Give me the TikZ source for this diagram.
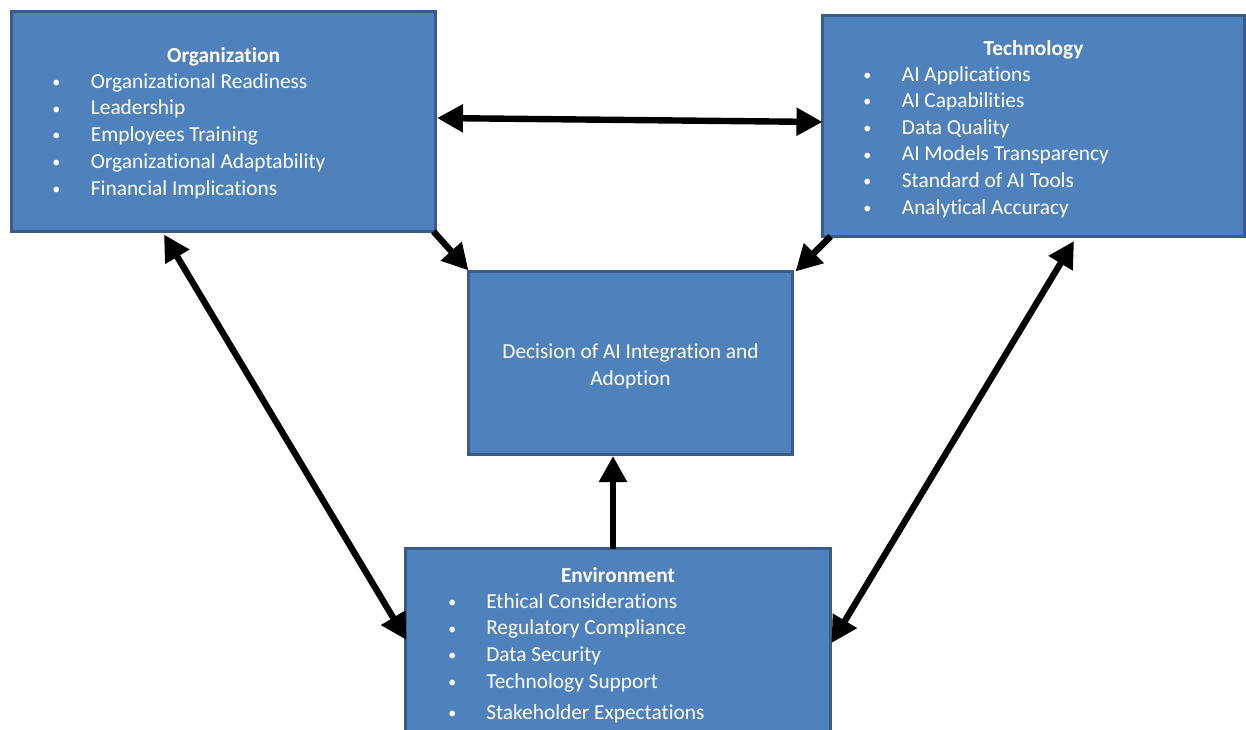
\documentclass[tikz,border=0pt]{standalone}
\usepackage{fontspec}
\setmainfont{Carlito}[Ligatures={NoCommon}]
\usetikzlibrary{arrows.meta,calc}
\definecolor{boxfill}{HTML}{4F81BD}
\definecolor{boxline}{HTML}{385D8A}
\newcommand{\blt}{\raisebox{0.5pt}{\scalebox{0.75}{•}}}
\tikzset{
  box/.style={draw=boxline, fill=boxfill, line width=2.25pt, rectangle, outer sep=0pt, inner sep=0pt},
  ttl/.style={font=\bfseries\fontsize{16}{19}\selectfont, text=white, anchor=base, inner sep=0pt},
  plain/.style={font=\fontsize{16}{19}\selectfont, text=white, anchor=base, inner sep=0pt},
  item/.style={font=\fontsize{16}{19}\selectfont, text=white, anchor=base west, inner sep=0pt},
  arr/.style={line width=4.8pt, -{Triangle[length=19.5pt,width=20pt]}},
  darr/.style={line width=4.8pt, {Triangle[length=19.5pt,width=20pt]}-{Triangle[length=19.5pt,width=20pt]}},
}
\begin{document}
\begin{tikzpicture}[x=0.75pt,y=-0.75pt]
\clip (0,0) rectangle (1246,729);
\fill[white] (0,0) rectangle (1246,729);
% boxes
\node[box, minimum width=318pt, minimum height=165pt] (org) at (223.5,121.5) {};
\node[box, minimum width=316.5pt, minimum height=165.75pt] (tech) at (1033.5,126) {};
\node[box, minimum width=243pt, minimum height=137.25pt] (dec) at (630.5,363) {};
\node[box, minimum width=318.75pt, minimum height=165pt] (env) at (618,658.5) {};
% organization text
\node[ttl] (orgt) at (223.5,62) {Organization};
\foreach \t [count=\i] in {Organizational Readiness, Leadership, Employees Training, Organizational Adaptability, Financial Implications}
  \node[item] (o\i) at (52,{88+(\i-1)*26.75}) {\makebox[29pt][l]{\blt}\t};
% technology text
\node[ttl] (techt) at (1033.5,55) {Technology};
\foreach \t [count=\i] in {AI Applications, AI Capabilities, Data Quality, AI Models Transparency, Standard of AI Tools, Analytical Accuracy}
  \node[item] (t\i) at (863,{81+(\i-1)*26.6}) {\makebox[29pt][l]{\blt}\t};
% decision text
\node[plain] (dec1) at (630.5,358) {Decision of AI Integration and};
\node[plain] (dec2) at (630.5,385) {Adoption};
% environment text
\node[ttl] (envt) at (618,582) {Environment};
\foreach \t [count=\i] in {Ethical Considerations, Regulatory Compliance, Data Security, Technology Support}
  \node[item] (e\i) at (448,{608+(\i-1)*26.7}) {\makebox[28.5pt][l]{\blt}\t};
\node[item] (e5) at (448,719) {\makebox[28.5pt][l]{\blt}Stakeholder Expectations};
% connectors
\draw[darr] ($(org.east)+(1.5,-3.5)$) -- ($(tech.west)+(0,-4)$);
\draw[arr] ($(org.south east)+(-2,0)$) -- ($(dec.north west)+(0,-1)$);
\draw[arr] ($(tech.south west)+(8,0)$) -- ($(dec.north east)+(3,0)$);
\draw[arr] ($(env.north)+(-5,0)$) -- ($(dec.south)+(-17.5,1.5)$);
\draw[darr] ($(org.south west)+(152.5,3)$) -- ($(env.north west)+(1,91.5)$);
\draw[darr] ($(tech.south west)+(251.5,4.5)$) -- ($(env.north east)+(1,94.5)$);
\end{tikzpicture}
\end{document}
